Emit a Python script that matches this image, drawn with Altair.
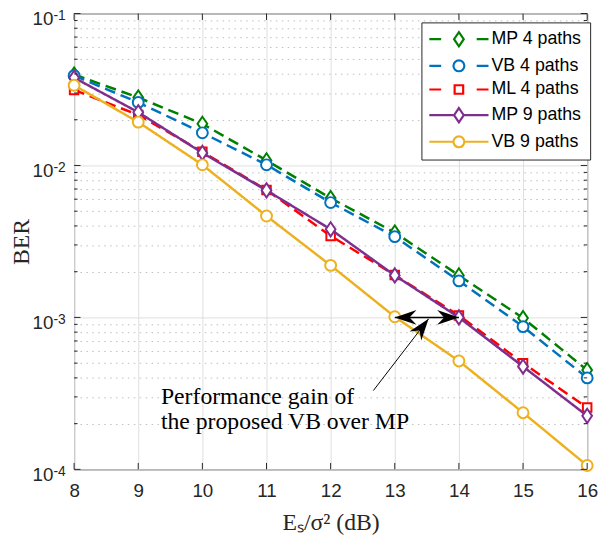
import altair as alt
import pandas as pd

# ---------------- data ----------------
snr = [8, 9, 10, 11, 12, 13, 14, 15, 16]
series_names = ["MP 4 paths", "VB 4 paths", "ML 4 paths", "MP 9 paths", "VB 9 paths"]
ber_mp4 = [0.0397, 0.028, 0.0188, 0.0108, 0.0061, 0.00362, 0.00189, 0.00099, 0.00045]
ber_vb4 = [0.039, 0.026, 0.0164, 0.0101, 0.0057, 0.0034, 0.00174, 0.00087, 0.0004]
ber_ml4 = [0.0314, 0.0215, 0.0123, 0.0069, 0.00344, 0.0019, 0.00103, 0.0005, 0.000255]
ber_mp9 = [0.0378, 0.0224, 0.0121, 0.00686, 0.0038, 0.00189, 0.001, 0.000475, 0.000225]
ber_vb9 = [0.0337, 0.0193, 0.0101, 0.00465, 0.0022, 0.00101, 0.000517, 0.000236, 0.000106]
series_ber = [ber_mp4, ber_vb4, ber_ml4, ber_mp9, ber_vb9]
series_colors = ["#008000", "#0072BD", "#FF0000", "#7E2F8E", "#EDB120"]
series_dashed = [True, True, True, False, False]
series_marker = ["diamond", "circle", "square", "diamond", "circle"]

decades = [1e-1, 1e-2, 1e-3, 1e-4]
decade_exp = ["-1", "-2", "-3", "-4"]
minor_vals = [k * d for d in [1e-4, 1e-3, 1e-2] for k in range(2, 10)]

note_lines = ["Performance gain of", "the proposed VB over MP"]
note_x = [9.354, 9.354]
note_y = [2.70e-4, 1.84e-4]

arrow_x = [13, 12.666]
arrow_y = [1e-3, 3.30e-4]
arrow_x2 = [14, 13.528]
arrow_y2 = [1e-3, 9.8e-4]
arrow_w = [1.5, 1.0]
head_x = [13, 14, 13.528]
head_y = [1e-3, 1e-3, 9.8e-4]
head_ang = [180, 0, 307.6]

# ---------------- shapes ----------------
R_D, H_D, R_C, R_S = 0.82, 1.2, 0.92, 0.72
marker_path = {
    "diamond": f"M0,-{H_D}L{R_D},0L0,{H_D}L-{R_D},0Z",
    "circle": f"M-{R_C},0A{R_C},{R_C},0,1,0,{R_C},0A{R_C},{R_C},0,1,0,-{R_C},0Z",
    "square": f"M-{R_S},-{R_S}H{R_S}V{R_S}H-{R_S}Z",
}
marker_half = {"diamond": R_D, "circle": R_C, "square": R_S}
legend_paths = []
for m, d in zip(series_marker, series_dashed):
    if d:
        pre = "M-5,0H-3M3,0H5"
    else:
        pre = f"M-5,0H-{marker_half[m]}M{marker_half[m]},0H5"
    legend_paths.append(pre + marker_path[m])
ARROW = "M0,0L-3.67,-1.25L-2.5,0L-3.67,1.25Z"

# ---------------- frames ----------------
rows = []
for n, b in zip(series_names, series_ber):
    for s, v in zip(snr, b):
        rows.append({"series": n, "snr": s, "ber": v})
df = pd.DataFrame(rows)
df_dec = pd.DataFrame({"ber": decades, "base": ["10"] * 4, "exp": decade_exp})
df_minor = pd.DataFrame({"ber": minor_vals})
df_x = pd.DataFrame({"snr": snr})
df_note = pd.DataFrame({"snr": note_x, "ber": note_y, "text": note_lines})
df_arrow = pd.DataFrame({"snr": arrow_x, "ber": arrow_y, "x2": arrow_x2, "y2": arrow_y2, "w": arrow_w})
df_head = pd.DataFrame({"snr": head_x, "ber": head_y, "ang": head_ang})

W, H = 520, 462
AX = "#262626"
xscale = alt.Scale(domain=[8, 16], nice=False, zero=False)
yscale = alt.Scale(type="log", domain=[1e-4, 1e-1], nice=False)
TEST = "abs(log(datum.value)/LN10 - round(log(datum.value)/LN10)) < 0.001"

xaxis = alt.Axis(values=snr, title="Eₛ/σ² (dB)", grid=True, gridColor="#dedede", gridWidth=1,
                 ticks=False, domain=False, labelFont="Liberation Sans", labelFontSize=19,
                 labelColor=AX, labelPadding=13, labelFlush=False, labelOverlap=False,
                 titleFont="Liberation Serif", titleFontSize=24, titleFontWeight="normal",
                 titleColor=AX, titleX=W / 2, titleY=61, titleBaseline="alphabetic", titleAlign="center")
yaxis = alt.Axis(values=decades + minor_vals, labels=False, ticks=False, domain=False, grid=True,
                 gridColor={"condition": {"test": TEST, "value": "#dedede"}, "value": "#bdbdbd"},
                 gridDash={"condition": {"test": TEST, "value": []}, "value": [1.5, 4.5]},
                 gridWidth=1, title="BER", titleFont="Liberation Serif", titleFontSize=24,
                 titleFontWeight="normal", titleColor=AX, titleX=-46, titleY=H / 2, titleAngle=270,
                 titleBaseline="alphabetic", titleAlign="center")

X = alt.X("snr:Q", scale=xscale, axis=xaxis)
Y = alt.Y("ber:Q", scale=yscale, axis=yaxis)

layers = []
# series
for n, c, d, m in zip(series_names, series_colors, series_dashed, series_marker):
    sub = alt.Chart(df).transform_filter(alt.datum.series == n)
    layers.append(sub.mark_line(color=c, strokeWidth=2.5, strokeDash=[11, 6] if d else [1, 0]).encode(x=X, y=Y))
    layers.append(sub.mark_point(shape=marker_path[m], size=144, filled=False, fill="white",
                                 stroke=c, strokeWidth=2, opacity=1).encode(x=X, y=Y))

# ticks (inward)
for x0, x1 in [(0, 6.5), (W, W - 6.5)]:
    layers.append(alt.Chart(df_dec).mark_rule(color=AX, strokeWidth=1).encode(
        y=Y, x=alt.value(x0), x2=alt.value(x1)))
for x0, x1 in [(0, 3.5), (W, W - 3.5)]:
    layers.append(alt.Chart(df_minor).mark_rule(color=AX, strokeWidth=1).encode(
        y=Y, x=alt.value(x0), x2=alt.value(x1)))
for y0, y1 in [(H, H - 6.5), (0, 6.5)]:
    layers.append(alt.Chart(df_x).mark_rule(color=AX, strokeWidth=1).encode(
        x=X, y=alt.value(y0), y2=alt.value(y1)))

# legend-only layer
leg = alt.Legend(title=None, orient="none", legendX=352, legendY=9, padding=8,
                 strokeColor=AX, fillColor="white", labelFont="Liberation Sans", labelFontSize=18,
                 labelColor="black", rowPadding=5, symbolSize=144, symbolStrokeWidth=2.2,
                 symbolOffset=21, labelOffset=24, labelLimit=300)
layers.append(alt.Chart(df).mark_point(filled=False, opacity=0, size=144).encode(
    x=X, y=Y,
    color=alt.Color("series:N", scale=alt.Scale(domain=series_names, range=series_colors), legend=leg),
    shape=alt.Shape("series:N", scale=alt.Scale(domain=series_names, range=legend_paths), legend=leg)))

# y tick labels 10^k
layers.append(alt.Chart(df_dec).mark_text(align="right", baseline="middle", dy=6, font="Liberation Sans",
                                          fontSize=19, color=AX).encode(
    y=Y, x=alt.value(-21), text="base:N"))
layers.append(alt.Chart(df_dec).mark_text(align="left", baseline="middle", dy=2.5, font="Liberation Sans",
                                          fontSize=14, color=AX).encode(
    y=Y, x=alt.value(-21), text="exp:N"))

# annotation
layers.append(alt.Chart(df_arrow).mark_rule(color="black").encode(
    x=X, y=Y, x2="x2:Q", y2="y2:Q", strokeWidth=alt.StrokeWidth("w:Q", scale=None)))
layers.append(alt.Chart(df_head).mark_point(shape=ARROW, size=144, filled=True, color="black", opacity=1).encode(
    x=X, y=Y, angle=alt.Angle("ang:Q", scale=None)))
layers.append(alt.Chart(df_note).mark_text(align="left", baseline="alphabetic", font="Liberation Serif",
                                           fontSize=24, color="black").encode(
    x=X, y=Y, text="text:N"))

chart = alt.layer(*layers).properties(
    width=W, height=H,
    padding={"left": 67, "top": 2, "right": 13, "bottom": 68},
    autosize=alt.AutoSizeParams(type="none"),
    background="white",
).configure_view(stroke=AX, strokeWidth=1)

chart.save("out.html", embed_options={"renderer": "svg", "actions": False})
